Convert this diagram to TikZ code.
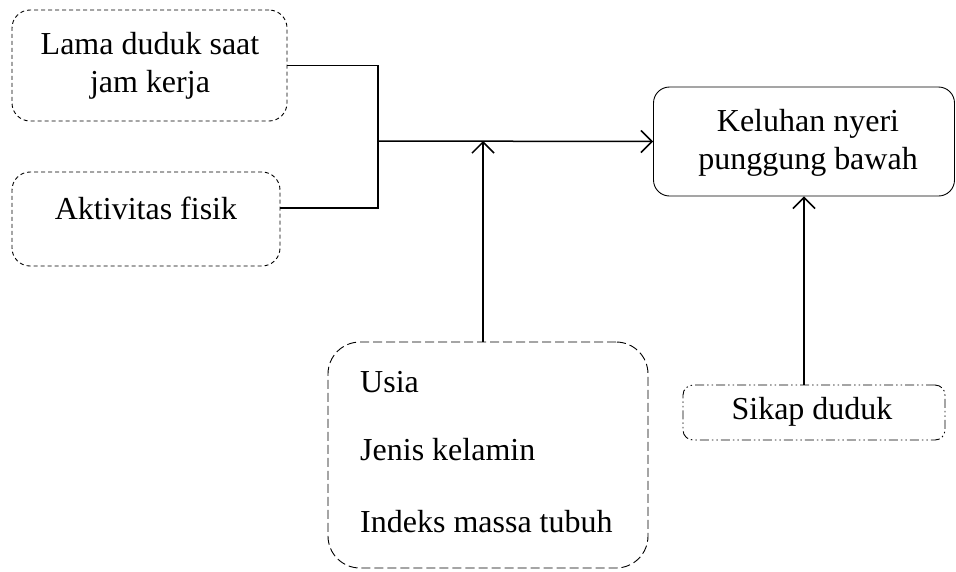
\documentclass[tikz,border=0pt]{standalone}
\usepackage{fontspec}
\setmainfont{Liberation Serif}
\usetikzlibrary{arrows.meta}
\begin{document}
\begin{tikzpicture}[x=1pt,y=-1pt,
  txt/.style={font=\fontsize{32}{38}\selectfont, inner sep=0pt},
  dbox/.style={draw, line width=0.9pt, dash pattern=on 4pt off 3pt, rounded corners=18pt, inner sep=0pt},
  ldbox/.style={draw, line width=0.9pt, dash pattern=on 9pt off 4pt, rounded corners=32pt, inner sep=0pt},
  ddbox/.style={draw, line width=0.9pt, dash pattern=on 9pt off 3pt on 1.5pt off 3pt on 1.5pt off 3pt, rounded corners=10pt, inner sep=0pt},
  sbox/.style={draw, line width=0.9pt, rounded corners=16pt, inner sep=0pt},
  conn/.style={line width=1.5pt},
  arr/.style={line width=1.5pt, -{Straight Barb[length=11pt,width=22pt,line width=1.5pt]}}
]
\useasboundingbox (0,0) rectangle (956,571);

% Box 1
\node[dbox, minimum width=275pt, minimum height=111pt] (b1) at (149.5,65.5) {};
\node[txt, align=center] (t1) at (150,66) {Lama duduk saat\\jam kerja};

% Box 2
\node[dbox, minimum width=268pt, minimum height=94pt] (b2) at (146,219) {};
\node[txt] (t2) at (146,208) {Aktivitas fisik};

% Outcome box
\node[sbox, minimum width=301pt, minimum height=109pt] (kel) at (804,141.5) {};
\node[txt, align=center] (tk) at (808,143) {Keluhan nyeri\\punggung bawah};

% Bottom box
\node[ldbox, minimum width=320pt, minimum height=226pt] (bot) at (488,455) {};
\node[txt, anchor=base west] (u1) at (360,392) {Usia};
\node[txt, anchor=base west] (u2) at (360,460) {Jenis kelamin};
\node[txt, anchor=base west] (u3) at (360,532) {Indeks massa tubuh};

% Sikap duduk box
\node[ddbox, minimum width=262pt, minimum height=55pt] (sik) at (814,412.5) {};
\node[txt] (ts) at (812,412) {Sikap duduk};

% Connectors
\coordinate (j) at (378,141);
\coordinate (m) at (483,141);
\draw[conn] (b1.east) -| (j);
\draw[conn] (b2.east |- t2) -| (j);
\draw[arr] (j) -- (kel.west);
\draw[arr] (bot.north -| m) -- (m);
\draw[arr] (kel.south |- sik.north) -- (kel.south);
\end{tikzpicture}
\end{document}
